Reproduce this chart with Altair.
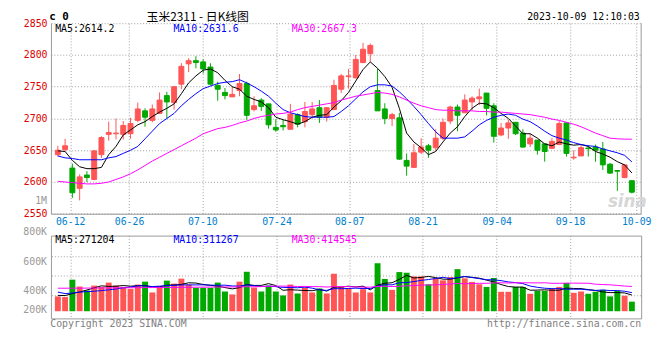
import altair as alt
import pandas as pd

# ---------------- data ----------------
DATES = ["06-08","06-09","06-12","06-13","06-14","06-15","06-16","06-19","06-20","06-21",
         "06-26","06-27","06-28","06-29","06-30","07-03","07-04","07-05","07-06","07-07",
         "07-10","07-11","07-12","07-13","07-14","07-17","07-18","07-19","07-20","07-21",
         "07-24","07-25","07-26","07-27","07-28","07-31","08-01","08-02","08-03","08-04",
         "08-07","08-08","08-09","08-10","08-11","08-14","08-15","08-16","08-17","08-18",
         "08-21","08-22","08-23","08-24","08-25","08-28","08-29","08-30","08-31","09-01",
         "09-04","09-05","09-06","09-07","09-08","09-11","09-12","09-13","09-14","09-15",
         "09-18","09-19","09-20","09-21","09-22","09-25","09-26","09-27","09-28","10-09"]

OPEN = [2643,2651,2622,2590,2611,2604,2643,2675,2676,2675,
        2676,2697,2712,2697,2708,2736,2725,2754,2786,2791,
        2789,2781,2752,2741,2734,2744,2755,2714,2729,2723,
        2686,2689,2683,2706,2695,2706,2717,2702,2714,2746,
        2766,2764,2788,2802,2744,2715,2700,2701,2634,2623,
        2647,2657,2654,2669,2696,2718,2709,2726,2731,2740,
        2720,2674,2685,2694,2677,2660,2666,2660,2653,2659,
        2693,2638,2641,2653.5,2655,2652,2628,2618,2607,2602]
HIGH = [2657,2668,2629,2612,2617,2650,2672,2695,2700,2696,
        2701,2725,2716,2722,2741,2742,2750,2787,2795,2798,
        2793,2787,2758,2748,2750,2770,2758,2735,2732,2723,
        2699,2698,2723,2708,2726,2726,2729,2717,2761,2770,
        2778,2800,2819,2818,2778,2724,2709,2709,2645,2660,
        2669,2660,2683,2700,2720,2722,2738,2735,2747,2740,
        2724,2693,2698,2694,2683,2676,2666,2660,2669,2696,
        2693,2650,2660,2658,2659,2663,2630,2618,2628,2603]
LOW = [2640,2648,2575,2571,2600,2603,2638,2665,2667,2667,
       2668,2694,2687,2694,2707,2700,2714,2746,2773,2779,
       2771,2752,2728,2730,2734,2735,2698,2711,2712,2684,
       2679,2681,2683,2686,2686,2700,2693,2695,2714,2740,
       2747,2763,2787,2789,2712,2691,2688,2635,2610,2622,
       2644,2638,2649,2666,2691,2680,2709,2713,2721,2705,
       2662,2672,2668,2674,2654,2655,2643,2632,2653,2658,
       2640,2635,2641,2640,2632,2619,2613,2586,2606,2582]
CLOSE = [2650,2657,2583,2608,2607,2649,2670,2678,2677,2689,
         2692,2715,2702,2715,2729,2726,2750,2782,2791,2788,
         2778,2754,2746,2736,2738,2755,2705,2720,2719,2690,
         2682,2687,2707,2691,2711,2715,2702,2717,2752,2767,
         2767,2793,2809,2815,2712,2700,2706,2636,2625,2646,
         2655,2650,2669,2694,2718,2705,2729,2732,2734,2716,
         2672,2685,2693,2676,2655,2669,2650,2648,2664,2692,
         2645,2639,2654,2652.5,2650,2627,2614,2617,2627,2584]

MA5 = [2649,2648,2634,2624,2621,2621,2623,2643,2656,2674,
       2682,2690,2695,2703,2710,2716,2723,2739,2756,2767,
       2776,2778,2772,2760,2750,2746,2735,2730,2726,2717,
       2702,2698,2695,2691,2695,2702,2705,2706,2718,2728,
       2741,2759,2777,2789,2779,2766,2749,2716,2677,2663,
       2654,2643,2648,2663,2677,2687,2703,2716,2724,2723,
       2717,2708,2700,2688,2676,2676,2669,2660,2657,2663,
       2660,2658,2659,2656,2648,2644,2639,2632,2627,2614.2]
MA10 = [2641,2638,2637,2635,2635,2635,2635,2638,2640,2645,
        2650,2656,2668,2680,2692,2700,2708,2720,2730,2739,
        2747,2751,2755,2757,2758,2761,2756,2750,2743,2735,
        2724,2714,2709,2706,2703,2702,2702,2702,2703,2711,
        2720,2731,2742,2750,2753,2753,2751,2742,2731,2719,
        2706,2692,2679,2669,2669,2669,2671,2680,2690,2697,
        2702,2705,2707,2705,2699,2695,2688,2680,2673,2669,
        2666,2662,2659,2657,2656,2652,2649,2646,2642,2631.6]
MA30 = [2601,2600,2599,2598,2597,2597,2598,2600,2604,2608,
        2613,2619,2626,2633,2639,2645,2651,2657,2663,2669,
        2676,2680,2684,2686,2689,2693,2696,2700,2703,2705,
        2707,2708,2710,2714,2717,2719,2721,2723,2725,2729,
        2732,2735,2737,2739,2741,2740,2738,2734,2729,2724,
        2720,2717,2714,2713,2713,2712,2712,2712,2711,2711,
        2710,2710,2709,2708,2707,2706,2704,2702,2699,2697,
        2694,2691,2687,2682,2677,2673,2669,2668,2667.5,2667.3]

# volume, thousands of lots
VOLUME = [248,237,528,413,347,429,407,479,429,407,
          374,446,495,314,413,512,462,545,446,391,
          391,391,479,330,281,495,660,396,330,429,
          330,264,446,297,396,314,380,297,627,407,
          385,314,369,314,803,539,358,655,644,583,
          583,451,550,517,572,704,550,490,451,407,
          556,325,325,407,407,292,341,341,374,407,
          473,308,330,292,325,358,248,341,259,160]
VMA5 = [265,262,295,322,355,391,425,415,418,430,
        419,427,430,407,408,436,439,449,476,471,
        447,433,420,396,374,395,449,432,432,462,
        429,350,360,353,347,343,367,337,403,405,
        419,406,420,358,437,468,477,534,600,556,
        565,583,562,537,535,559,579,567,553,520,
        491,446,413,404,404,351,354,358,351,351,
        387,381,378,362,346,323,311,313,306,271.204]
VMA10 = [320,295,305,320,328,335,345,358,372,392,
         405,426,423,413,419,428,433,440,441,440,
         442,436,434,436,423,421,441,426,414,418,
         412,399,396,393,404,386,358,348,378,376,
         381,386,379,380,421,444,441,477,479,496,
         516,530,548,568,545,562,581,564,545,528,
         525,512,490,479,462,421,400,385,378,378,
         369,368,368,357,348,355,346,346,334,311.267]
VMA30 = [385,385,386,386,387,388,389,390,391,392,
         393,394,395,396,397,398,399,400,401,402,
         403,404,405,406,407,408,409,410,412,417,
         420,420,418,414,415,412,411,405,411,411,
         412,407,403,403,416,417,413,417,424,430,
         437,439,441,447,457,464,460,463,467,467,
         474,476,472,476,476,475,474,476,467,467,
         470,470,469,468,452,446,442,432,421,414.545]

PRICE_TICKS = [2550, 2600, 2650, 2700, 2750, 2800, 2850]
TICK_LABELS = ["06-12", "06-26", "07-10", "07-24", "08-07", "08-21", "09-04", "09-18", "10-09"]
TICK_POS = [1.7, 9.8, 19.9, 30.1, 40.1, 50.2, 60.4, 70.5, 79.6]
VOL_LABELS = ["200K", "400K", "600K", "800K"]
VOL_LABEL_POS = [16.5, 346, 825, 1320]
VOL_GRID = [259, 589, 912]

TITLE = "玉米2311 - 日K线图"
STAMP = "2023-10-09 12:10:03"

# ---------------- styling ----------------
RED, GREEN = "#FF5555", "#00A800"
GRID, BORDER = "#A0A0A0", "#999999"
MONO = "DejaVu Sans Mono"
W, H, VH = 599, 193.4, 84

df = pd.DataFrame({
    "idx": list(range(len(DATES))), "date": DATES,
    "open": OPEN, "high": HIGH, "low": LOW, "close": CLOSE,
    "ma5": MA5, "ma10": MA10, "ma30": MA30,
    "vol": VOLUME, "vma5": VMA5, "vma10": VMA10, "vma30": VMA30,
})
df["dir"] = ["up" if c >= o else "down" for o, c in zip(OPEN, CLOSE)]

XS = alt.Scale(domain=[-0.27, 79.6], nice=False, zero=False)
PS = alt.Scale(domain=[2550, 2850], nice=False, zero=False)
VS = alt.Scale(domain=[-120, 1265], nice=False, zero=False)
DIR = alt.Scale(domain=["up", "down"], range=[RED, GREEN])

label_expr = " : ".join(f"datum.value == {p} ? '{l}'" for p, l in zip(TICK_POS, TICK_LABELS)) + " : ''"

XAX = alt.Axis(values=TICK_POS, labelExpr=label_expr, grid=True, gridColor=GRID, gridDash=[1, 2],
               ticks=False, tickSize=0, domain=True, domainColor=BORDER, labelColor="#0080CC",
               labelFont=MONO, labelFontSize=10, labelPadding=3, labelFlush=True,
               labelOverlap=False, title=None)
PAX = alt.Axis(values=PRICE_TICKS, format="d", grid=True, gridColor=GRID, gridDash=[1, 2], ticks=False,
               tickSize=0, domain=True, domainColor=BORDER, labelColor="#DD0000", labelFont=MONO,
               labelFontSize=10, labelPadding=4, labelOverlap=False, title=None)
VXAX = alt.Axis(values=TICK_POS[:-1], grid=True, gridColor=GRID, gridDash=[1, 2], labels=False,
                ticks=False, domain=False, title=None)

X = alt.X("idx:Q", scale=XS, axis=XAX)
VX = alt.X("idx:Q", scale=XS, axis=VXAX)
COL = alt.Color("dir:N", scale=DIR, legend=None)


def text(t, x, y, **kw):
    return alt.Chart(pd.DataFrame({"t": [t]})).mark_text(**kw).encode(
        x=alt.value(x), y=alt.value(y), text="t:N")


base = alt.Chart(df)
wicks = base.mark_rule(strokeWidth=1).encode(
    x=X, y=alt.Y("low:Q", scale=PS, axis=PAX), y2="high:Q", color=COL)
bodies = base.mark_bar(size=5, strokeWidth=1).encode(
    x=X, y=alt.Y("open:Q", scale=PS, axis=PAX), y2="close:Q", color=COL,
    stroke=alt.Stroke("dir:N", scale=DIR, legend=None))
l5 = base.mark_line(strokeWidth=1, color="#000000").encode(x=X, y=alt.Y("ma5:Q", scale=PS, axis=PAX))
l10 = base.mark_line(strokeWidth=1, color="#0000FF").encode(x=X, y=alt.Y("ma10:Q", scale=PS, axis=PAX))
l30 = base.mark_line(strokeWidth=1, color="#FF00FF").encode(x=X, y=alt.Y("ma30:Q", scale=PS, axis=PAX))
right_border = alt.Chart(pd.DataFrame({"a": [0]})).mark_rule(color=BORDER).encode(
    x=alt.value(W), y=alt.value(0), y2=alt.value(H))

TOP_Y = -6
LEG_Y = 6.4
ptexts = [
    text("c 0", -1.7, TOP_Y, align="left", baseline="middle", font=MONO, fontSize=11, fontWeight="bold", color="#000"),
    text(TITLE, 149, TOP_Y, align="center", baseline="middle", font="Noto Sans CJK SC", fontSize=12, color="#000"),
    text(STAMP, 597.6, TOP_Y, align="right", baseline="middle", font=MONO, fontSize=10, color="#000"),
    text(f"MA5:{MA5[-1]}", 4.3, LEG_Y, align="left", baseline="middle", font=MONO, fontSize=10, color="#000000"),
    text(f"MA10:{MA10[-1]}", 124.3, LEG_Y, align="left", baseline="middle", font=MONO, fontSize=10, color="#0000FF"),
    text(f"MA30:{MA30[-1]}", 244.3, LEG_Y, align="left", baseline="middle", font=MONO, fontSize=10, color="#FF00FF"),
    text("1M", -4, 180.7, align="right", baseline="middle", font=MONO, fontSize=10, color="#999999"),
    text("sina", 585, 182, align="center", baseline="middle", font="DejaVu Sans", fontSize=17,
         fontWeight="bold", fontStyle="italic", color="#D6D6D6"),
]

price = alt.layer(wicks, bodies, l5, l10, l30, right_border, *ptexts).properties(
    width=W, height=H, view=alt.ViewBackground(stroke="transparent"))

# ---------------- volume panel ----------------
vgrid = alt.Chart(pd.DataFrame({"g": VOL_GRID})).mark_rule(color=GRID, strokeDash=[1, 2]).encode(
    y=alt.Y("g:Q", scale=VS, axis=None))
vbars = base.mark_bar(size=6).encode(
    x=VX, y=alt.Y("vol:Q", scale=VS, axis=None), y2=alt.datum(0), color=COL)
v5 = base.mark_line(strokeWidth=1, color="#000000").encode(x=VX, y=alt.Y("vma5:Q", scale=VS, axis=None))
v10 = base.mark_line(strokeWidth=1, color="#0000FF").encode(x=VX, y=alt.Y("vma10:Q", scale=VS, axis=None))
v30 = base.mark_line(strokeWidth=1, color="#FF00FF").encode(x=VX, y=alt.Y("vma30:Q", scale=VS, axis=None))
vlabels = alt.Chart(pd.DataFrame({"lab": VOL_LABELS, "pos": VOL_LABEL_POS})).mark_text(
    align="right", baseline="middle", font=MONO, fontSize=10, color="#999999").encode(
    x=alt.value(-4), y=alt.Y("pos:Q", scale=VS, axis=None), text="lab:N")

vtexts = [
    text(f"MA5:{round(VMA5[-1] * 1000)}", 4.3, 4.2, align="left", baseline="middle", font=MONO, fontSize=10, color="#000000"),
    text(f"MA10:{round(VMA10[-1] * 1000)}", 124.3, 4.2, align="left", baseline="middle", font=MONO, fontSize=10, color="#0000FF"),
    text(f"MA30:{round(VMA30[-1] * 1000)}", 244.3, 4.2, align="left", baseline="middle", font=MONO, fontSize=10, color="#FF00FF"),
    text("Copyright 2023 SINA.COM", -0.7, 90.2, align="left", baseline="middle", font=MONO, fontSize=10, color="#808080"),
    text("http://finance.sina.com.cn", W, 90.2, align="right", baseline="middle", font=MONO, fontSize=10, color="#808080"),
]

volume = alt.layer(vgrid, vbars, v5, v10, v30, vlabels, *vtexts).properties(
    width=W, height=VH, view=alt.ViewBackground(stroke=BORDER))

chart = alt.vconcat(price, volume, spacing=21.6, bounds="flush").properties(
    padding={"left": 14.6, "top": 0, "right": 0, "bottom": 0})

chart.save("out.html", embed_options={"renderer": "svg", "actions": False})
